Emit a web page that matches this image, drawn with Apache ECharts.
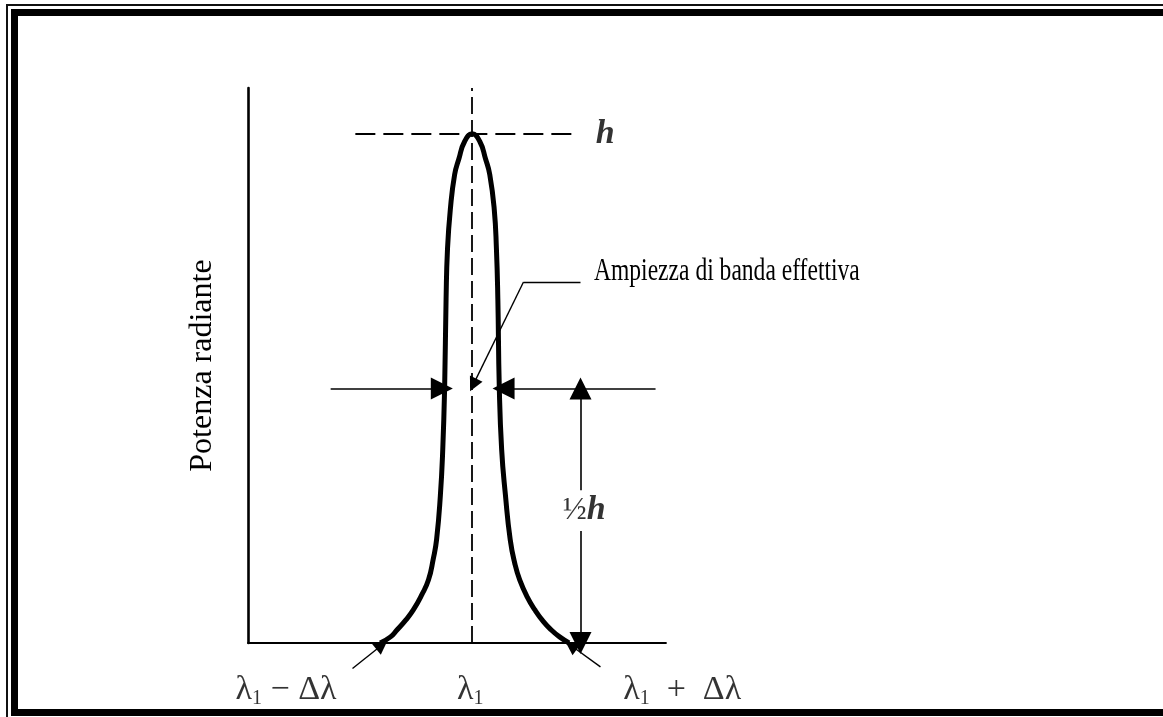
<!DOCTYPE html>
<html lang="it">
<head>
    <meta charset="utf-8">
    <title>Ampiezza di banda effettiva</title>
    <script src="https://cdn.jsdelivr.net/npm/echarts@6/dist/echarts.min.js"></script>
</head>
<body style="margin:0; background:#fff;">
<div id="main" style="width: 1163px; height: 717px;"></div>

<script type="text/javascript">
    // profilo del picco: x in unita' di Δλ (0 = λ1), y in frazioni di h
    const leftX  = [-0.97, -0.86, -0.79, -0.70, -0.62, -0.53, -0.46, -0.41, -0.375, -0.335, -0.31, -0.29, -0.275, -0.26, -0.23, -0.185, -0.14, -0.08, 0];
    const leftY  = [0, 0.012, 0.026, 0.045, 0.065, 0.095, 0.124, 0.165, 0.203, 0.29, 0.38, 0.504, 0.675, 0.774, 0.852, 0.92, 0.951, 0.985, 1];
    const rightX = [0.08, 0.14, 0.185, 0.232, 0.255, 0.27, 0.285, 0.31, 0.35, 0.40, 0.45, 0.50, 0.58, 0.66, 0.75, 0.83, 0.92, 1.02];
    const rightY = [0.985, 0.951, 0.92, 0.852, 0.774, 0.675, 0.504, 0.38, 0.29, 0.203, 0.155, 0.124, 0.09, 0.065, 0.042, 0.026, 0.012, 0];

    const halfH = 0.5;        // ½h
    const peakH = 1;          // h
    const bottomLabels = [['λ1 − Δλ', -1.96], ['λ1', -0.02], ['λ1  +  Δλ', 2.21]];

    const serif = '"Liberation Serif", "DejaVu Serif", serif';

    let curve = [];
    for (let i = 0; i < leftX.length; i++) curve.push([leftX[i], leftY[i]]);
    for (let i = 0; i < rightX.length; i++) curve.push([rightX[i], rightY[i]]);

    let myChart = echarts.init(document.getElementById('main'));

    function lambdaRich(txt) {
        return txt.replace(/λ1/g, '{l|λ}{s|1}').replace(/Δλ/g, '{l|Δλ}').replace(/(\s+[−+]\s+)/g, '{l|$1}');
    }

    const option = {
        backgroundColor: '#fff',
        animation: false,
        grid: {left: 248, top: 88, width: 418, height: 555},
        xAxis: {
            type: 'value', min: -2.36, max: 2.04,
            axisLine: {show: true, onZero: false, lineStyle: {color: '#000', width: 1.8}},
            axisTick: {show: false}, axisLabel: {show: false}, splitLine: {show: false}
        },
        yAxis: {
            type: 'value', min: 0, max: 1.09,
            name: 'Potenza radiante', nameLocation: 'middle', nameGap: 29, nameRotate: 90,
            nameTextStyle: {fontFamily: serif, fontSize: 32, color: '#000'},
            axisLine: {show: true, onZero: false, lineStyle: {color: '#000', width: 2.6}},
            axisTick: {show: false}, axisLabel: {show: false}, splitLine: {show: false}
        },
        graphic: [
            {type: 'rect', shape: {x: 7, y: 5, width: 1200, height: 760}, style: {fill: 'none', stroke: '#111', lineWidth: 2}},
            {type: 'rect', shape: {x: 14.5, y: 12.5, width: 1200, height: 700}, style: {fill: 'none', stroke: '#000', lineWidth: 7}},
            {type: 'text', x: 594, y: 272, scaleX: 0.76,
                style: {text: 'Ampiezza di banda effettiva', font: '31px ' + serif, fill: '#000', verticalAlign: 'middle'}}
        ],
        series: [
            {
                // tratteggi: asse del picco e livello h
                type: 'lines', coordinateSystem: 'cartesian2d', clip: false, silent: true,
                symbol: 'none',
                lineStyle: {color: '#000', width: 1.8, type: [17, 6], opacity: 1},
                data: [
                    {coords: [[0, 0], [0, 1.09]]},
                    {coords: [[-1.23, peakH], [1.08, peakH]], lineStyle: {color: '#000', width: 1.8, type: [20, 8], opacity: 1}}
                ]
            },
            {
                type: 'line', data: curve, smooth: 0.5, symbol: 'none', silent: true,
                lineStyle: {color: '#000', width: 5}
            },
            {
                // frecce a metà altezza e ½h
                type: 'lines', coordinateSystem: 'cartesian2d', clip: false, silent: true,
                lineStyle: {color: '#000', width: 1.6, opacity: 1},
                symbol: ['none', 'triangle'], symbolSize: [10, 22],
                data: [
                    {coords: [[-1.49, halfH], [-0.32, halfH]]},
                    {coords: [[1.93, halfH], [0.33, halfH]]},
                    {coords: [[1.14, 0.30], [1.14, halfH]]},
                    {coords: [[1.14, 0.22], [1.14, 0]]}
                ]
            },
            {
                // richiami
                type: 'lines', coordinateSystem: 'cartesian2d', clip: false, silent: true,
                lineStyle: {color: '#000', width: 1.4, opacity: 1},
                symbol: ['none', 'triangle'], symbolSize: [6, 14],
                data: [
                    {coords: [[1.14, 0.709], [0.54, 0.709]], symbol: 'none'},
                    {coords: [[0.54, 0.709], [0.01, 0.507]]},
                    {coords: [[-1.26, -0.05], [-0.95, -0.004]]},
                    {coords: [[1.35, -0.047], [1.04, -0.005]]}
                ]
            },
            {
                type: 'scatter', symbolSize: 0, clip: false, silent: true,
                label: {show: true, position: 'inside', color: '#000', fontFamily: serif},
                data: [
                    {value: [1.40, peakH], name: 'h',
                        label: {formatter: 'h', fontSize: 34, fontStyle: 'italic', fontWeight: 'bold'}},
                    {value: [1.18, 0.261], name: '½h',
                        label: {formatter: '{f|½}{i|h}', rich: {
                            f: {fontFamily: serif, fontSize: 32, color: '#000'},
                            i: {fontFamily: serif, fontSize: 34, fontStyle: 'italic', fontWeight: 'bold', color: '#000'}}}}
                ].concat(bottomLabels.map(function (b) {
                    return {
                        value: [b[1], -0.092], name: b[0],
                        label: {
                            formatter: lambdaRich(b[0]),
                            rich: {
                                l: {fontFamily: serif, fontSize: 34, color: '#000', lineHeight: 38},
                                s: {fontFamily: serif, fontSize: 20, color: '#000', lineHeight: 38, verticalAlign: 'bottom'}
                            }
                        }
                    };
                }))
            }
        ]
    };
    myChart.setOption(option);
</script>
</body>
</html>
